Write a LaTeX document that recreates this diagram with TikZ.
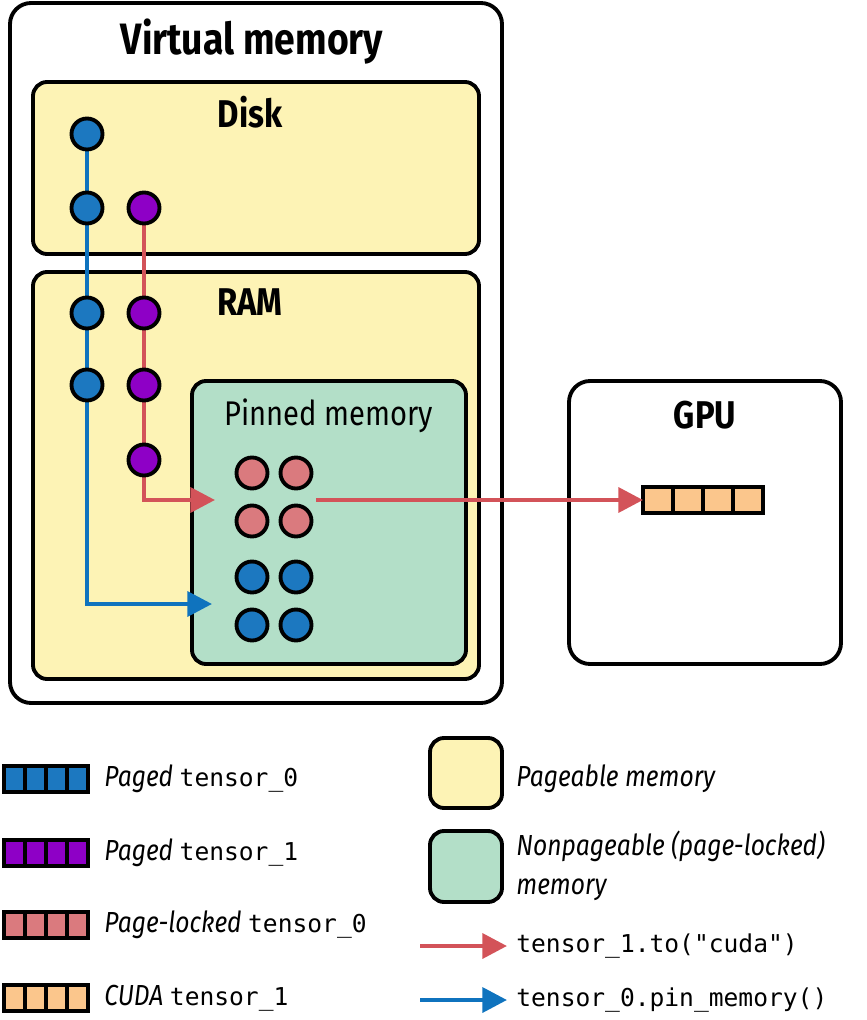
\documentclass[tikz,border=0pt]{standalone}
\usepackage{fontspec}
\setmainfont{Fira Sans}[FakeStretch=0.85]
\setmonofont{DejaVu Sans Mono}
\usetikzlibrary{arrows.meta}
\definecolor{yel}{HTML}{FDF3B5}
\definecolor{grn}{HTML}{B3DFC8}
\definecolor{tblue}{HTML}{1C78C0}
\definecolor{tpurp}{HTML}{8E00C6}
\definecolor{tpink}{HTML}{DA7A7E}
\definecolor{torange}{HTML}{FBC68C}
\definecolor{ared}{HTML}{D35359}
\definecolor{ablue}{HTML}{0F73BE}
\tikzset{
  box/.style={draw=black,line width=2.2pt,rounded corners=8pt},
  dot/.style={circle,draw=black,line width=2.2pt,minimum size=0.62cm,inner sep=0pt},
  flow/.style={line width=2.6pt,-{Triangle[length=14pt,width=14pt]}},
  title/.style={font=\bfseries\fontsize{22}{26}\selectfont},
  lbl/.style={font=\fontsize{16.5}{20}\selectfont,anchor=west,inner sep=0pt},
  pic cell/.style={draw=black,line width=2pt}
}
\newcommand{\tbar}[5]{% name, x, y(center), color, cell width
  \foreach \i in {0,...,3}{\draw[pic cell,fill=#4] ({#2+\i*#5},{#3-13}) rectangle ++(#5,26);}
  \coordinate (#1) at ({#2},{#3});
}
\newcommand{\code}[1]{{\fontsize{14}{18}\selectfont\ttfamily #1}}
\begin{document}
\begin{tikzpicture}[x=0.02cm,y=-0.02cm]
\useasboundingbox (0,0) rectangle (866,1020);
% containers
\draw[box,fill=white,rounded corners=12pt] (10,3) rectangle (502,703);
\node[font=\bfseries\fontsize{25}{30}\selectfont] (vm) at (252,42) {Virtual memory};
\draw[box,fill=yel] (33,82) rectangle (479,254);
\node[title] (disk) at (250,112) {Disk};
\draw[box,fill=yel] (33,272) rectangle (479,679);
\node[title] (ram) at (250,302) {RAM};
\draw[box,fill=grn] (192,381) rectangle (466,664);
\node[font=\fontsize{19.5}{22}\selectfont] (pin) at (329,416) {Pinned memory};
\draw[box,fill=white,rounded corners=12pt] (569,381) rectangle (841,664);
\node[title] (gpu) at (705,415) {GPU};
% paths
\coordinate (bend0) at (87,604);
\coordinate (tip0) at (212,604);
\coordinate (bend1) at (144,500);
\coordinate (tip1) at (215,500);
\coordinate (src) at (316,500);
\draw[flow,ablue] (87,134) -- (bend0) -- (tip0);
\draw[flow,ared] (144,208) -- (bend1) -- (tip1);
% dots
\foreach \n/\y in {a/134,b/208,c/313,d/385} \node[dot,fill=tblue] (b\n) at (87,\y) {};
\foreach \n/\y in {a/208,b/313,c/385,d/460} \node[dot,fill=tpurp] (p\n) at (144,\y) {};
\foreach \n/\x/\y in {a/252/473,b/296/473,c/252/521,d/296/521} \node[dot,fill=tpink] (k\n) at (\x,\y) {};
\foreach \n/\x/\y in {a/252/577,b/296/577,c/252/625,d/296/625} \node[dot,fill=tblue] (u\n) at (\x,\y) {};
% GPU tensor
\tbar{gt}{643}{500}{torange}{30}
\draw[flow,ared] (src) -- (gt);
% legend tensors
\tbar{l0}{4}{779}{tblue}{21}
\tbar{l1}{4}{853}{tpurp}{21}
\tbar{l2}{4}{925}{tpink}{21}
\tbar{l3}{4}{998}{torange}{21}
\node[lbl] (t0) at (104,779) {\textit{Paged} \code{tensor\_0}};
\node[lbl] (t1) at (104,853) {\textit{Paged} \code{tensor\_1}};
\node[lbl] (t2) at (104,925) {\textit{Page-locked} \code{tensor\_0}};
\node[lbl] (t3) at (104,998) {\textit{CUDA} \code{tensor\_1}};
\draw[box,fill=yel] (430,738) rectangle (502,808);
\draw[box,fill=grn] (430,831) rectangle (502,902);
\node[lbl] (pg) at (516,779) {\textit{Pageable memory}};
\node[lbl,align=left] (npg) at (516,866) {\textit{Nonpageable (page-locked)}\\[2pt]\textit{memory}};
\coordinate (r0) at (420,946); \coordinate (r1) at (507,946);
\coordinate (q0) at (420,1000); \coordinate (q1) at (507,1000);
\draw[flow,ared] (r0) -- (r1);
\draw[flow,ablue] (q0) -- (q1);
\node[lbl] (c1) at (516,946) {\code{tensor\_1.to("cuda")}};
\node[lbl] (c2) at (516,1000) {\code{tensor\_0.pin\_memory()}};
\end{tikzpicture}
\end{document}
